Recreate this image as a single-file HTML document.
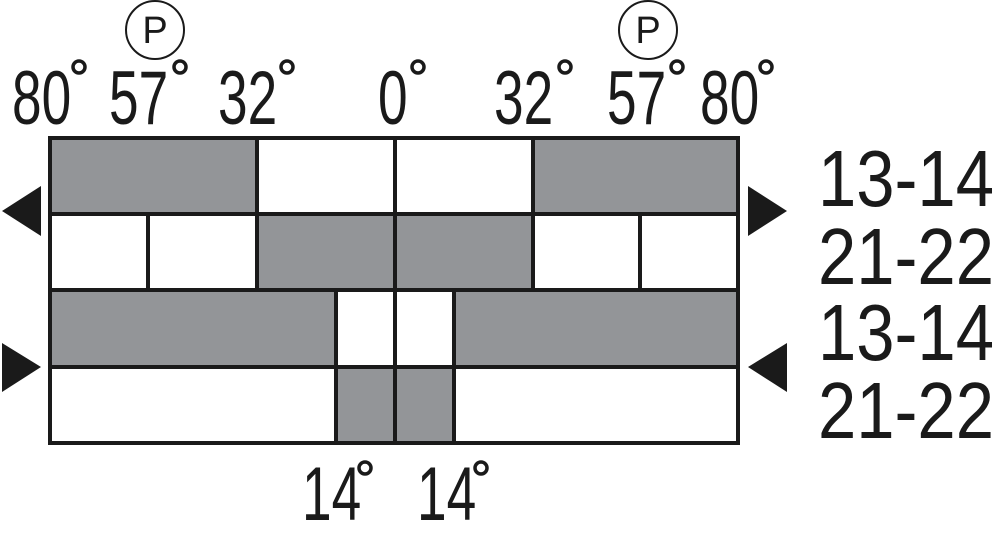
<!DOCTYPE html>
<html><head><meta charset="utf-8"><style>
html,body{margin:0;padding:0;background:#fff;}
svg{display:block;}
text{font-family:"Liberation Sans",sans-serif;fill:#1a1a1a;}
</style></head><body>
<svg width="1000" height="539" viewBox="0 0 1000 539" xmlns="http://www.w3.org/2000/svg">
<g fill="#939598">
<rect x="50" y="138" width="207" height="76"/>
<rect x="533" y="138" width="205" height="76"/>
<rect x="257" y="214" width="276" height="76"/>
<rect x="50" y="290" width="286" height="77"/>
<rect x="454" y="290" width="284" height="77"/>
<rect x="336" y="367" width="118" height="76"/>
</g>
<g stroke="#1a1a1a" stroke-width="4" fill="none">
<rect x="50" y="138" width="688" height="305"/>
<line x1="50" y1="214" x2="738" y2="214"/>
<line x1="50" y1="290" x2="738" y2="290"/>
<line x1="50" y1="367" x2="738" y2="367"/>
<line x1="395" y1="138" x2="395" y2="443"/>
<line x1="257" y1="138" x2="257" y2="290"/>
<line x1="533" y1="138" x2="533" y2="290"/>
<line x1="148" y1="214" x2="148" y2="290"/>
<line x1="640" y1="214" x2="640" y2="290"/>
<line x1="336" y1="290" x2="336" y2="443"/>
<line x1="454" y1="290" x2="454" y2="443"/>
</g>
<g fill="#1a1a1a">
<polygon points="2,211 41,186 41,236"/>
<polygon points="787,211 748,186 748,236"/>
<polygon points="41,367 2,343 2,392"/>
<polygon points="748,367 787,343 787,392"/>
</g>
<g stroke="#1a1a1a" stroke-width="2" fill="none">
<circle cx="155" cy="30" r="29"/>
<circle cx="648" cy="30" r="29"/>
</g>
<text x="155" y="43" font-size="38" text-anchor="middle">P</text>
<text x="648" y="43" font-size="38" text-anchor="middle">P</text>
<g font-size="76">
<text transform="translate(12,124) scale(0.7,1)">80</text>
<text transform="translate(109,124) scale(0.7,1)">57</text>
<text transform="translate(218,124) scale(0.7,1)">32</text>
<text transform="translate(378,124) scale(0.7,1)">0</text>
<text transform="translate(494,124) scale(0.7,1)">32</text>
<text transform="translate(607,124) scale(0.7,1)">57</text>
<text transform="translate(700,124) scale(0.7,1)">80</text>
<text transform="translate(302,520) scale(0.7,1)">14</text>
<text transform="translate(417,520) scale(0.7,1)">14</text>
</g>
<g stroke="#1a1a1a" stroke-width="3.5" fill="none">
<circle cx="79" cy="67" r="6"/>
<circle cx="180" cy="67" r="6"/>
<circle cx="287" cy="67" r="6"/>
<circle cx="418" cy="67" r="6"/>
<circle cx="565" cy="67" r="6"/>
<circle cx="677" cy="67" r="6"/>
<circle cx="766" cy="67" r="6"/>
<circle cx="365" cy="468" r="6"/>
<circle cx="481" cy="468" r="6"/>
</g>
<g font-size="80">
<text transform="translate(818,206) scale(0.86,1)">13-14</text>
<text transform="translate(818,284) scale(0.86,1)">21-22</text>
<text transform="translate(818,360) scale(0.86,1)">13-14</text>
<text transform="translate(818,438) scale(0.86,1)">21-22</text>
</g>
</svg>
</body></html>
